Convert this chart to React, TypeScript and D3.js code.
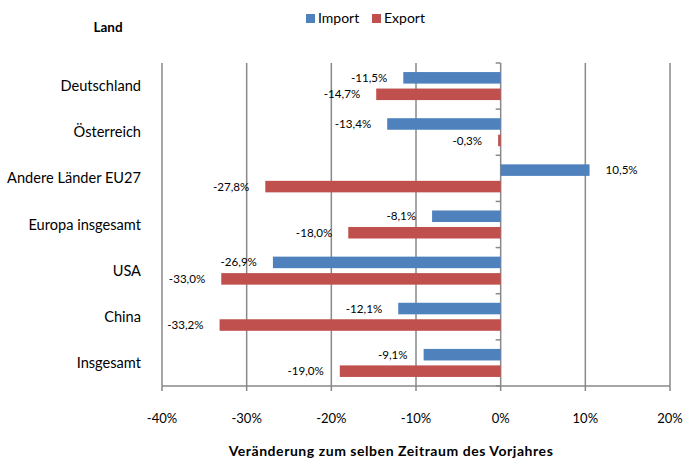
import { useEffect, useRef } from "react";
import * as d3 from "d3";

const categories = [
  "Deutschland",
  "Österreich",
  "Andere Länder EU27",
  "Europa insgesamt",
  "USA",
  "China",
  "Insgesamt",
];
const importValues = [-11.5, -13.4, 10.5, -8.1, -26.9, -12.1, -9.1];
const exportValues = [-14.7, -0.3, -27.8, -18.0, -33.0, -33.2, -19.0];
const series = ["Import", "Export"];
const colors = ["#4F81BD", "#C0504D"];
const xTicks = [-40, -30, -20, -10, 0, 10, 20];

const font = "Lato, 'Open Sans', sans-serif";
const de = d3.formatLocale({
  decimal: ",",
  thousands: ".",
  grouping: [3],
  currency: ["", " €"],
  minus: "-",
});
const fmtLabel = de.format(".1f");

export default function App() {
  const ref = useRef<SVGSVGElement>(null);

  useEffect(() => {
    const svg = d3.select(ref.current);
    svg.selectAll("*").remove(); // clear before redraw

    const width = 683;
    const height = 459;
    svg.attr("width", width).attr("height", height);

    const x = d3.scaleLinear().domain([-40, 20]).range([162, 670]);
    const y = d3.scaleBand().domain(categories).range([63, 386]);
    const ySub = d3
      .scaleBand()
      .domain(series)
      .range([0, y.bandwidth()])
      .paddingInner(0.3)
      .paddingOuter(0.55);

    const grid = "#898989";

    // vertical gridlines
    svg
      .append("g")
      .selectAll("line")
      .data(xTicks)
      .join("line")
      .attr("x1", (d) => x(d))
      .attr("x2", (d) => x(d))
      .attr("y1", y.range()[0])
      .attr("y2", y.range()[1] + 5)
      .attr("stroke", grid)
      .attr("stroke-width", 1.5);

    // bottom axis line
    svg
      .append("line")
      .attr("x1", x(-40))
      .attr("x2", x(20))
      .attr("y1", y.range()[1])
      .attr("y2", y.range()[1])
      .attr("stroke", grid)
      .attr("stroke-width", 1.5);

    // category tick marks on the zero axis
    const bounds = categories.map((c) => y(c)!).concat([y.range()[1]]);
    svg
      .append("g")
      .selectAll("line")
      .data(bounds)
      .join("line")
      .attr("x1", x(0) - 5)
      .attr("x2", x(0))
      .attr("y1", (d) => d)
      .attr("y2", (d) => d)
      .attr("stroke", grid)
      .attr("stroke-width", 1.5);

    // x tick labels
    svg
      .append("g")
      .selectAll("text")
      .data(xTicks)
      .join("text")
      .attr("x", (d) => x(d))
      .attr("y", 418)
      .attr("dy", "0.35em")
      .attr("text-anchor", "middle")
      .style("font-family", font)
      .style("font-size", "13px")
      .text((d) => d + "%");

    // category labels
    svg
      .append("g")
      .selectAll("text")
      .data(categories)
      .join("text")
      .attr("x", 141)
      .attr("y", (d) => y(d)! + y.bandwidth() / 2)
      .attr("dy", "0.35em")
      .attr("text-anchor", "end")
      .style("font-family", font)
      .style("font-size", "14.6px")
      .text((d) => d);

    // bars + labels
    const allSeries = [importValues, exportValues];
    allSeries.forEach((vals, si) => {
      const g = svg.append("g");
      const rows = categories.map((c, i) => ({ c, v: vals[i] }));
      g.selectAll("rect")
        .data(rows)
        .join("rect")
        .attr("x", (d) => x(Math.min(0, d.v)))
        .attr("width", (d) => Math.abs(x(d.v) - x(0)))
        .attr("y", (d) => y(d.c)! + ySub(series[si])!)
        .attr("height", ySub.bandwidth())
        .attr("fill", colors[si]);

      g.selectAll("text")
        .data(rows)
        .join("text")
        .attr("x", (d) => (d.v < 0 ? x(d.v) - 16 : x(d.v) + 16))
        .attr("y", (d) => y(d.c)! + ySub(series[si])! + ySub.bandwidth() / 2)
        .attr("dy", "0.35em")
        .attr("text-anchor", (d) => (d.v < 0 ? "end" : "start"))
        .style("font-family", font)
        .style("font-size", "11.6px")
        .text((d) => fmtLabel(d.v) + "%");
    });

    // legend
    const legendX = [306, 372];
    series.forEach((s, i) => {
      svg
        .append("rect")
        .attr("x", legendX[i])
        .attr("y", 14)
        .attr("width", 9)
        .attr("height", 9)
        .attr("fill", colors[i]);
      svg
        .append("text")
        .attr("x", legendX[i] + 12)
        .attr("y", 18.5)
        .attr("dy", "0.35em")
        .style("font-family", font)
        .style("font-size", "14px")
        .text(s);
    });

    // titles
    svg
      .append("text")
      .attr("x", 108)
      .attr("y", 27)
      .attr("dy", "0.35em")
      .attr("text-anchor", "middle")
      .style("font-family", font)
      .style("font-size", "13.5px")
      .style("font-weight", "bold")
      .text("Land");

    svg
      .append("text")
      .attr("x", 391)
      .attr("y", 451)
      .attr("dy", "0.35em")
      .attr("text-anchor", "middle")
      .style("font-family", font)
      .style("font-size", "14px")
      .style("font-weight", "bold")
      .style("letter-spacing", "0.55px")
      .text("Veränderung zum selben Zeitraum des Vorjahres");
  }, []);

  return (
    <div style={{ position: "absolute", left: 0, top: 0 }}>
      <svg ref={ref}></svg>
    </div>
  );
}
